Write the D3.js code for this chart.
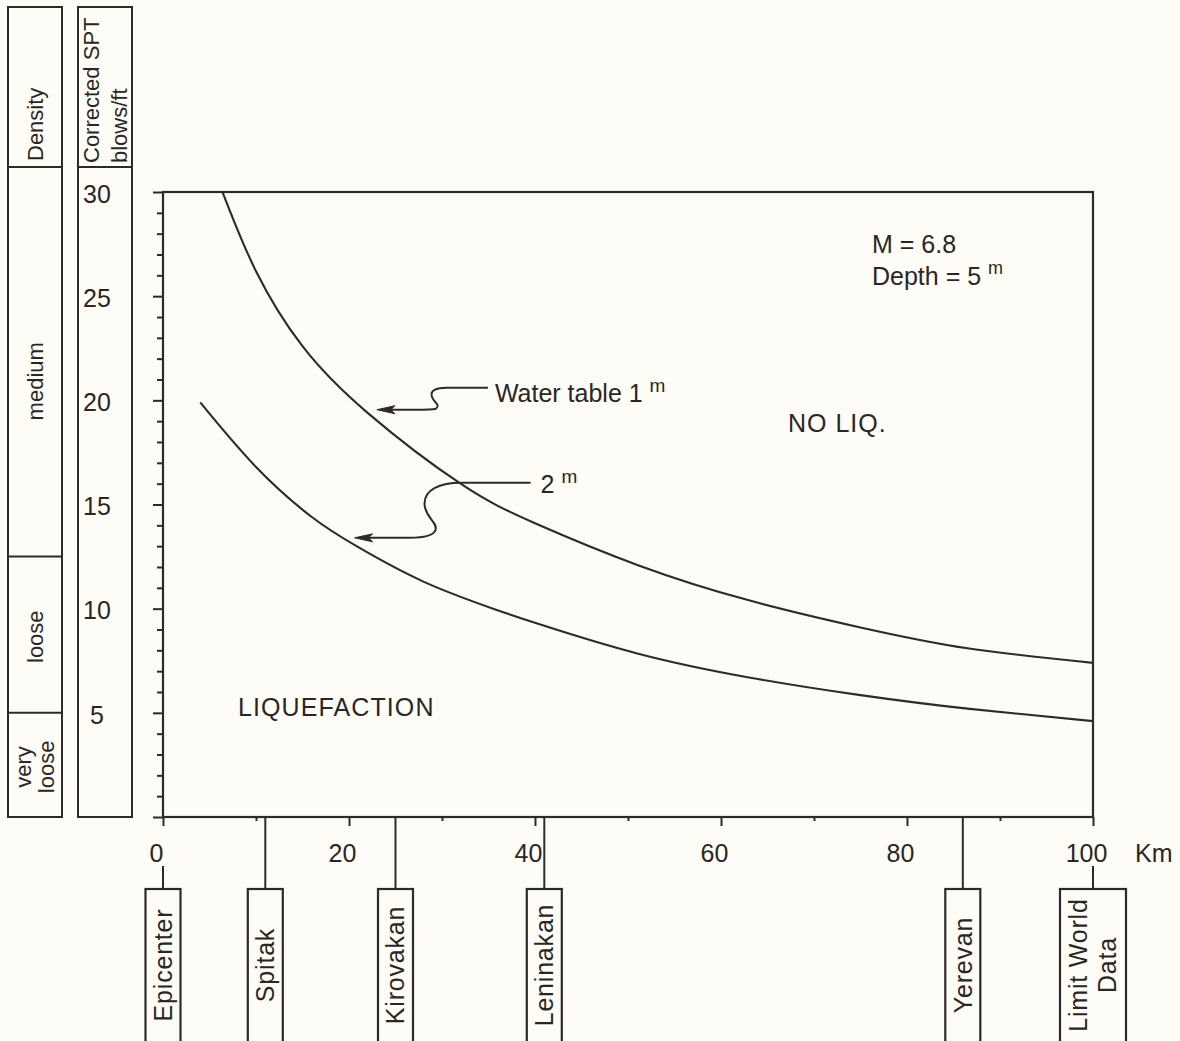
<!DOCTYPE html>
<html>
<head>
<meta charset="utf-8">
<script src="https://cdn.jsdelivr.net/npm/d3@7"></script>
<style>
  html, body { margin: 0; padding: 0; background: #fdfcf6; }
  svg { display: block; }
  text { font-family: "Liberation Sans", Arial, Helvetica, sans-serif; fill: #2a2626; }
</style>
</head>
<body>
<svg id="chart" width="1180" height="1041"></svg>
<script>
// Liquefaction threshold curves: corrected SPT blow count vs. distance from epicenter
const kmTicks = [0, 20, 40, 60, 80, 100];
const kmMinorTicks = [10, 30, 50, 70, 90];
const sptTicks = [5, 10, 15, 20, 25, 30];

// Water table at 1 m
const wt1Km  = [6.4, 10, 15, 22, 32, 40, 51, 63, 75, 86.5, 100];
const wt1Spt = [30, 26.2, 22.6, 19.4, 16.0, 14.1, 12.1, 10.4, 9.1, 8.1, 7.4];

// Water table at 2 m
const wt2Km  = [4, 10, 16, 21, 28, 35.5, 40.5, 51, 63, 75, 86.5, 100];
const wt2Spt = [19.9, 16.8, 14.4, 12.95, 11.3, 10.0, 9.25, 7.85, 6.7, 5.85, 5.2, 4.6];

// Relative density classes (SPT ranges)
const densityNames = [["very", "loose"], ["loose"], ["medium"]];
const densityFrom  = [0, 5, 12.5];
const densityTo    = [5, 12.5, 30];

// Towns along the distance axis
const townNames = [["Epicenter"], ["Spitak"], ["Kirovakan"], ["Leninakan"], ["Yerevan"], ["Limit World", "Data"]];
const townKm    = [0, 11, 25, 41, 86, 100];

const ink = "#2e2a2a";
const svg = d3.select("#chart");

const x = d3.scaleLinear().domain([0, 100]).range([163, 1093]);
const y = d3.scaleLinear().domain([0, 30]).range([817, 192]);

// ---- plot frame ----
svg.append("rect")
  .attr("x", x(0)).attr("y", y(30))
  .attr("width", x(100) - x(0)).attr("height", y(0) - y(30))
  .attr("fill", "none").attr("stroke", ink).attr("stroke-width", 2.2);

// ---- y axis ticks (every unit, longer every 5) ----
const yMinor = d3.range(0, 31).filter(v => v % 5 !== 0);
const yMajor = d3.range(0, 31, 5);
svg.append("g").attr("transform", `translate(${x(0)},0)`)
  .call(d3.axisLeft(y).tickValues(yMinor).tickSize(6).tickFormat(""))
  .call(g => g.select(".domain").remove())
  .call(g => g.selectAll("line").attr("stroke", ink).attr("stroke-width", 2));
svg.append("g").attr("transform", `translate(${x(0)},0)`)
  .call(d3.axisLeft(y).tickValues(yMajor).tickSize(10).tickFormat(""))
  .call(g => g.select(".domain").remove())
  .call(g => g.selectAll("line").attr("stroke", ink).attr("stroke-width", 2));

// ---- x axis ----
svg.append("g").attr("transform", `translate(0,${y(0)})`)
  .call(d3.axisBottom(x).tickValues(kmMinorTicks).tickSize(4).tickFormat(""))
  .call(g => g.select(".domain").remove())
  .call(g => g.selectAll("line").attr("stroke", ink).attr("stroke-width", 2));
svg.append("g").attr("transform", `translate(0,${y(0)})`)
  .call(d3.axisBottom(x).tickValues(kmTicks).tickSize(9).tickPadding(18).tickFormat(d3.format("d")))
  .call(g => g.select(".domain").remove())
  .call(g => g.selectAll("line").attr("stroke", ink).attr("stroke-width", 2))
  .call(g => g.selectAll("text")
     .attr("font-size", 25).attr("font-family", null).attr("fill", ink)
     .attr("dx", -7));
svg.append("text").attr("x", 1135).attr("y", y(0) + 27).attr("dy", "0.71em")
  .attr("font-size", 25).text("Km");

// ---- left columns: density and corrected SPT ----
const colTop = 7, headBottom = 167;
const densX = [8, 62], sptX = [78, 132];
[densX, sptX].forEach(cx => {
  svg.append("rect").attr("x", cx[0]).attr("y", colTop)
    .attr("width", cx[1] - cx[0]).attr("height", y(0) - colTop)
    .attr("fill", "none").attr("stroke", ink).attr("stroke-width", 2);
  svg.append("line").attr("x1", cx[0]).attr("x2", cx[1])
    .attr("y1", headBottom).attr("y2", headBottom)
    .attr("stroke", ink).attr("stroke-width", 2);
});
// density class boundaries
svg.selectAll(".dens-break").data(densityFrom.filter(v => v > 0)).join("line")
  .attr("x1", densX[0]).attr("x2", densX[1])
  .attr("y1", d => y(d)).attr("y2", d => y(d))
  .attr("stroke", ink).attr("stroke-width", 2);

// density labels, rotated
densityNames.forEach((lines, i) => {
  const cy = y((densityFrom[i] + densityTo[i]) / 2) + (lines[0] === "medium" ? 7 : 2);
  const cx = (densX[0] + densX[1]) / 2;
  const n = lines.length, lh = 23;
  lines.forEach((t, j) => {
    const off = (j - (n - 1) / 2) * lh;
    svg.append("text")
      .attr("transform", `translate(${cx + off},${cy}) rotate(-90)`)
      .attr("text-anchor", "middle").attr("dy", "0.35em")
      .attr("font-size", 22).text(t);
  });
});

// header labels
svg.append("text")
  .attr("transform", `translate(${(densX[0] + densX[1]) / 2},${headBottom - 6}) rotate(-90)`)
  .attr("dy", "0.35em").attr("font-size", 22).text("Density");
svg.append("text")
  .attr("transform", `translate(99,${headBottom - 4}) rotate(-90)`)
  .attr("font-size", 22).text("Corrected SPT");
svg.append("text")
  .attr("transform", `translate(127,${headBottom - 4}) rotate(-90)`)
  .attr("font-size", 22).text("blows/ft");

// SPT values in the column
svg.selectAll(".spt-label").data(sptTicks).join("text")
  .attr("x", (sptX[0] + sptX[1]) / 2 - 8).attr("y", d => y(d) + 2)
  .attr("dy", "0.35em").attr("text-anchor", "middle")
  .attr("font-size", 25).text(d => d);

// ---- curves ----
const line = d3.line().x(d => x(d[0])).y(d => y(d[1])).curve(d3.curveNatural);
const series = [d3.zip(wt1Km, wt1Spt), d3.zip(wt2Km, wt2Spt)];
svg.selectAll(".curve").data(series).join("path")
  .attr("d", line).attr("fill", "none")
  .attr("stroke", ink).attr("stroke-width", 2.1);

// ---- region labels ----
svg.append("text").attr("x", 788).attr("y", 432)
  .attr("font-size", 25).attr("letter-spacing", 1).text("NO LIQ.");
svg.append("text").attr("x", 238).attr("y", 716)
  .attr("font-size", 25).attr("letter-spacing", 1.1).text("LIQUEFACTION");

// parameters
const par = svg.append("g").attr("font-size", 25);
par.append("text").attr("x", 872).attr("y", 253).text("M = 6.8");
const dep = par.append("text").attr("x", 872).attr("y", 285);
dep.append("tspan").text("Depth = 5 ");
dep.append("tspan").attr("font-size", 18).attr("dy", -11).text("m");

// ---- curve call-outs with wavy leaders ----
function arrowHead(tx, ty) {
  svg.append("path")
    .attr("d", `M${tx},${ty} L${tx + 18},${ty - 4} L${tx + 14},${ty} L${tx + 18},${ty + 4} Z`)
    .attr("fill", ink).attr("stroke", ink).attr("stroke-width", 1);
}
// 1 m: tip anchored just left of the upper curve
{
  const tx = x(23), ty = y(19.55);
  const p = d3.path();
  p.moveTo(tx + 111, ty - 22);
  p.lineTo(tx + 70, ty - 22);
  p.bezierCurveTo(tx + 59, ty - 22, tx + 53, ty - 19, tx + 55, ty - 13);
  p.bezierCurveTo(tx + 57, ty - 7, tx + 64, ty - 5, tx + 59, ty - 1);
  p.bezierCurveTo(tx + 56, ty, tx + 48, ty, tx + 38, ty);
  p.lineTo(tx + 12, ty);
  svg.append("path").attr("d", p.toString()).attr("fill", "none")
    .attr("stroke", ink).attr("stroke-width", 2);
  arrowHead(tx, ty);
  const t = svg.append("text").attr("x", tx + 118).attr("y", ty - 8).attr("font-size", 25);
  t.append("tspan").text("Water table 1 ");
  t.append("tspan").attr("font-size", 19).attr("dy", -10).text("m");
}
// 2 m: tip anchored just left of the lower curve
{
  const tx = x(20.6), ty = y(13.4);
  const p = d3.path();
  p.moveTo(tx + 176, ty - 55);
  p.lineTo(tx + 107, ty - 55);
  p.bezierCurveTo(tx + 85, ty - 55, tx + 69, ty - 48, tx + 70, ty - 33);
  p.bezierCurveTo(tx + 71, ty - 20, tx + 83, ty - 16, tx + 81, ty - 8);
  p.bezierCurveTo(tx + 79, ty - 1, tx + 65, ty, tx + 55, ty);
  p.lineTo(tx + 12, ty);
  svg.append("path").attr("d", p.toString()).attr("fill", "none")
    .attr("stroke", ink).attr("stroke-width", 2);
  arrowHead(tx, ty);
  const t = svg.append("text").attr("x", tx + 186).attr("y", ty - 45).attr("font-size", 25);
  t.append("tspan").text("2 ");
  t.append("tspan").attr("font-size", 19).attr("dy", -10).text("m");
}

// ---- town markers below the distance axis ----
const boxTop = 889;
townNames.forEach((lines, i) => {
  const cx = x(townKm[i]);
  const w = lines.length > 1 ? 66 : 35;
  const detached = townKm[i] === 0 || townKm[i] === 100;
  svg.append("line").attr("x1", cx).attr("x2", cx)
    .attr("y1", detached ? 866 : y(0)).attr("y2", boxTop)
    .attr("stroke", ink).attr("stroke-width", 2);
  svg.append("rect").attr("x", cx - w / 2).attr("y", boxTop)
    .attr("width", w).attr("height", 200)
    .attr("fill", "none").attr("stroke", ink).attr("stroke-width", 2.2);
  const n = lines.length, lh = 29;
  lines.forEach((t, j) => {
    const off = (j - (n - 1) / 2) * lh;
    svg.append("text")
      .attr("transform", `translate(${cx + off},965) rotate(-90)`)
      .attr("text-anchor", "middle").attr("dy", "0.35em")
      .attr("font-size", 25).attr("letter-spacing", 0.8).text(t);
  });
});
</script>
</body>
</html>
